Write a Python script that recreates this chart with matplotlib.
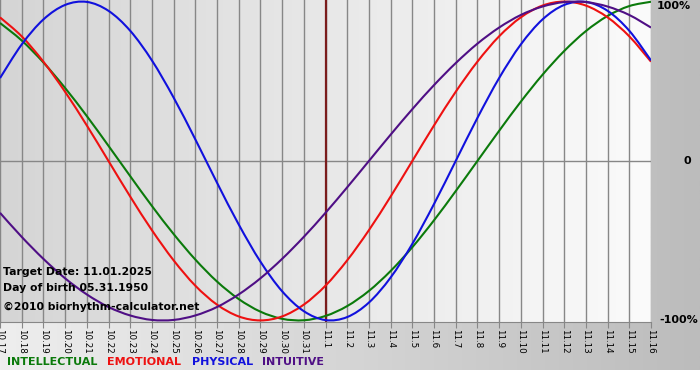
import matplotlib
matplotlib.use('Agg')
import matplotlib.pyplot as plt
import numpy as np
from matplotlib.colors import LinearSegmentedColormap
from matplotlib.path import Path
from matplotlib.patches import PathPatch

# day labels, 10.17 .. 11.16
days = ['10.17', '10.18', '10.19', '10.20', '10.21', '10.22', '10.23', '10.24',
        '10.25', '10.26', '10.27', '10.28', '10.29', '10.30', '10.31',
        '11.1', '11.2', '11.3', '11.4', '11.5', '11.6', '11.7', '11.8', '11.9',
        '11.10', '11.11', '11.12', '11.13', '11.14', '11.15', '11.16']

physical = [0.520, 0.731, 0.888, 0.979, 0.998, 0.942, 0.817, 0.631, 0.398, 0.136,
            -0.136, -0.398, -0.631, -0.817, -0.942, -0.998, -0.979, -0.888, -0.731,
            -0.520, -0.270, 0.000, 0.270, 0.520, 0.731, 0.888, 0.979, 0.998, 0.942,
            0.817, 0.631]
emotional = [0.901, 0.782, 0.623, 0.434, 0.223, 0.000, -0.223, -0.434, -0.623, -0.782,
             -0.901, -0.975, -1.000, -0.975, -0.901, -0.782, -0.623, -0.434, -0.223,
             0.000, 0.223, 0.434, 0.623, 0.782, 0.901, 0.975, 1.000, 0.975, 0.901,
             0.782, 0.623]
intellectual = [0.866, 0.756, 0.618, 0.458, 0.282, 0.095, -0.095, -0.282, -0.458, -0.618,
                -0.756, -0.866, -0.945, -0.990, -0.999, -0.972, -0.910, -0.815, -0.690,
                -0.541, -0.372, -0.189, 0.000, 0.189, 0.372, 0.541, 0.690, 0.815, 0.910,
                0.972, 0.999]
intuitive = [-0.325, -0.476, -0.614, -0.736, -0.837, -0.916, -0.969, -0.997, -0.997, -0.969,
             -0.916, -0.837, -0.736, -0.614, -0.476, -0.325, -0.165, 0.000, 0.165, 0.325,
             0.476, 0.614, 0.736, 0.837, 0.916, 0.969, 0.997, 0.997, 0.969, 0.916, 0.837]

target_day = '11.1'
target_date = '11.01.2025'
birth_date = '05.31.1950'

series = [
    ('INTELLECTUAL', intellectual, '#0b7a0b'),
    ('EMOTIONAL', emotional, '#ee1111'),
    ('PHYSICAL', physical, '#1111dd'),
    ('INTUITIVE', intuitive, '#4f0f85'),
]
legend_x = [7, 107, 192, 262]  # px


def smooth_path(xs, ys):
    # catmull-rom through the daily values, drawn as bezier segments
    pts = np.column_stack([xs, ys]).astype(float)
    n = len(pts)
    verts = [pts[0]]
    codes = [Path.MOVETO]
    for i in range(n - 1):
        p0 = pts[max(i - 1, 0)]
        p1 = pts[i]
        p2 = pts[i + 1]
        p3 = pts[min(i + 2, n - 1)]
        verts += [p1 + (p2 - p0) / 6, p2 - (p3 - p1) / 6, p2]
        codes += [Path.CURVE4] * 3
    return Path(verts, codes)


W, H = 700, 380
fig = plt.figure(figsize=(W / 100, H / 100), dpi=100)
fig.patch.set_facecolor('white')

# grey gradient behind everything
bg = fig.add_axes([0, 10 / H, 1, 370 / H], zorder=-10)
bg.axis('off')
bg_cmap = LinearSegmentedColormap.from_list('bg', ['#eeeeee', '#bcbcbc'])
bg.imshow(np.linspace(0, 1, 256)[None, :], cmap=bg_cmap, aspect='auto',
          extent=[0, 1, 0, 1])

ax = fig.add_axes([0, 58 / H, 651 / W, 322 / H])
x = np.arange(len(days))
ax.set_xlim(0, len(days) - 1)
ax.set_ylim(-1.01, 1.01)
plot_cmap = LinearSegmentedColormap.from_list('plot', ['#d5d5d5', '#fbfbfb'])
ax.imshow(np.linspace(0, 1, 256)[None, :], cmap=plot_cmap, aspect='auto',
          extent=[0, len(days) - 1, -1.01, 1.01], zorder=0)

for xi in x:
    ax.axvline(xi, color='#878787', lw=1.0, zorder=1)
ax.axhline(0, color='#878787', lw=1.0, zorder=1)
ax.axvline(days.index(target_day), color='#7a1c1c', lw=1.6, zorder=2)

for name, vals, col in series:
    ax.add_patch(PathPatch(smooth_path(x, vals), fill=False, edgecolor=col,
                           lw=1.5, zorder=3))

for s in ('top', 'left', 'right'):
    ax.spines[s].set_visible(False)
ax.spines['bottom'].set_color('#878787')
ax.set_yticks([])
ax.set_xticks(x)
ax.set_xticklabels(days, rotation=270, fontsize=6.3, color='#000000')
ax.tick_params(axis='x', length=4, color='#878787', pad=1)

ytr = ax.get_yaxis_transform()
ax.text(657 / 651, 0.97, '100%', transform=ytr, fontsize=8, fontweight='bold',
        va='center', ha='left', clip_on=False)
ax.text(683 / 651, 0.0, '0', transform=ytr, fontsize=8, fontweight='bold',
        va='center', ha='left', clip_on=False)
ax.text(659 / 651, -1.0, '-100%', transform=ytr, fontsize=8, fontweight='bold',
        va='center', ha='left', clip_on=False)

fig.text(3 / W, 1 - 272 / H, f'Target Date: {target_date}', fontsize=7.8,
         fontweight='bold', va='center')
fig.text(3 / W, 1 - 288 / H, f'Day of birth {birth_date}', fontsize=7.8,
         fontweight='bold', va='center')
fig.text(3 / W, 1 - 307 / H, '\u00a92010 biorhythm-calculator.net', fontsize=7.8,
         fontweight='bold', va='center')

for (name, vals, col), lx in zip(series, legend_x):
    fig.text(lx / W, 1 - 362 / H, name, color=col, fontsize=8,
             fontweight='bold', va='center')

fig.savefig('out.png', dpi=100)
